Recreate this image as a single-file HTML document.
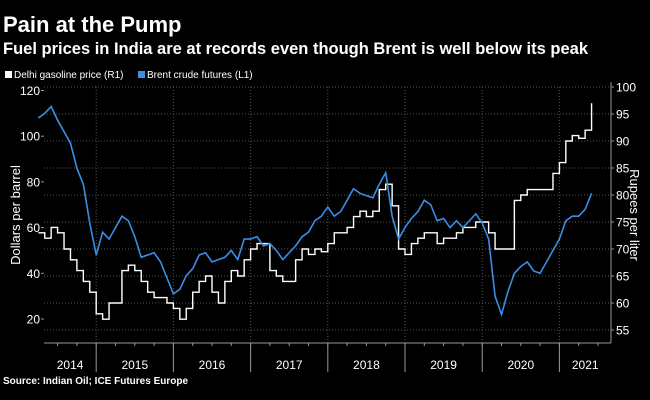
<!DOCTYPE html>
<html><head><meta charset="utf-8"><style>
body{margin:0;background:#000;}
svg{display:block;font-family:"Liberation Sans",sans-serif;}
</style></head><body>
<svg id="c" width="650" height="400">
<rect width="650" height="400" fill="#000"/>
<text x="3" y="32" fill="#fff" font-size="22" font-weight="bold">Pain at the Pump</text>
<text x="3" y="54" fill="#fff" font-size="16.5" font-weight="bold">Fuel prices in India are at records even though Brent is well below its peak</text>
<g>
<rect x="5" y="71" width="7" height="7" fill="#fff"/>
<text x="14" y="78" fill="#fff" font-size="10">Delhi gasoline price (R1)</text>
<rect x="138" y="71" width="7" height="7" fill="#3a8ee6"/>
<text x="147" y="78" fill="#fff" font-size="10">Brent crude futures (L1)</text>
</g>
<text transform="translate(20,215) rotate(-90)" text-anchor="middle" fill="#fff" font-size="13">Dollars per barrel</text>
<text transform="translate(630,215) rotate(90)" text-anchor="middle" fill="#fff" font-size="13">Rupees per liter</text>
<text x="3" y="384" fill="#fff" font-size="10" font-weight="bold">Source: Indian Oil; ICE Futures Europe</text>
<g id="g"></g>
</svg>
<script>
const brent=[108,110,113,107,102,97,86,79,62,
48,58,55,60,65,63,56,47,48,49,45,38,
31,33,39,42,48,49,45,46,47,50,46,55,
55,56,52,53,50,46,49,52,56,58,63,65,
69,65,67,72,77,75,74,73,79,84,65,55,
60,64,67,72,70,63,64,60,63,60,63,66,
62,55,30,22,32,40,43,45,41,40,45,50,
55,63,65,65,68,75];
const gasoline=[73,72,74,73,70,68,66,64,62,
58,57,60,60,66,67,66,64,62,61,61,60,
59,57,59,62,64,65,62,60,64,66,65,68,
70,71,71,66,65,64,64,68,70,69,70,69.5,
71,73,73,74,76,77,76,77,81,82,78,70,
69,71,72,73,73,71,72,72,73,74,74,75,
75,73,70,70,70,79,80,81,81,81,81,84,
86,90,91,90.5,92,97];
const leftTicks=[20,40,60,80,100,120];
const rightTicks=[55,60,65,70,75,80,85,90,95,100];
const years=[2014,2015,2016,2017,2018,2019,2020,2021];
const startYear=2014.25;
const NS='http://www.w3.org/2000/svg';
const g=document.getElementById('g');
const X0=44,X1=611,TOP=82,BOT=343;
const xT=t=>19+(t-2014)*77.2;
const yL=v=>319-(v-20)*2.285;
const yR=v=>330-(v-55)*5.4;
function mk(tag,a){const e=document.createElementNS(NS,tag);for(const k in a)e.setAttribute(k,a[k]);g.appendChild(e);return e;}
rightTicks.forEach(v=>{const l=mk('line',{x1:X0,x2:X1,y1:yR(v),y2:yR(v),stroke:'#555','stroke-dasharray':'1,2'});

});
years.slice(1).forEach(y=>{const l=mk('line',{x1:xT(y),x2:xT(y),y1:TOP+5,y2:BOT,stroke:'#555','stroke-dasharray':'1,2'});


const s=mk('line',{x1:xT(y),x2:xT(y),y1:BOT,y2:372,stroke:'#999'});

});
let a=mk('line',{x1:X0,x2:X1,y1:BOT,y2:BOT,stroke:'#999'});


a=mk('line',{x1:X1,x2:X1,y1:TOP,y2:BOT,stroke:'#999'});


for(let t=2014.5;t<2021.6;t+=0.25){const l=mk('line',{x1:xT(t),x2:xT(t),y1:BOT,y2:BOT+3,stroke:'#999'});

}
years.forEach(y=>{const cx=y===2014?(X0+xT(2015))/2:y===2021?(xT(2021)+X1)/2:xT(y)+38.6;
const t=mk('text',{x:cx,y:369,fill:'#fff','font-size':12,'text-anchor':'middle'});t.textContent=y;

});
leftTicks.forEach(v=>{const t=mk('text',{x:X0-4,y:yL(v)+4.5,fill:'#fff','font-size':12,'text-anchor':'end'});t.textContent=v;


const l=mk('line',{x1:X0-3,x2:X0,y1:yL(v),y2:yL(v),stroke:'#999'});

});
rightTicks.forEach(v=>{const t=mk('text',{x:X1+5,y:yR(v)+4.5,fill:'#fff','font-size':12});t.textContent=v;


const l=mk('line',{x1:X1,x2:X1+3,y1:yR(v),y2:yR(v),stroke:'#999'});

});
let d='';gasoline.forEach((v,i)=>{const x=xT(startYear+i/12),y=yR(v);d+=i?` H${x} V${y}`:`M${x},${y}`;});
const gp=mk('path',{d:d,fill:'none',stroke:'#fff','stroke-width':1.4});


const bp=mk('polyline',{points:brent.map((v,i)=>xT(startYear+i/12)+','+yL(v)).join(' '),fill:'none',stroke:'#3a8ee6','stroke-width':1.6});


</script>
</body></html>
